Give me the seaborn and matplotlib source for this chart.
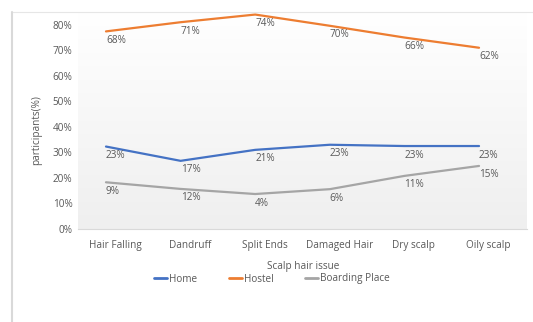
import numpy as np
import pandas as pd
import matplotlib
matplotlib.use("Agg")
import matplotlib.pyplot as plt
from matplotlib.lines import Line2D
from matplotlib.colors import LinearSegmentedColormap
import seaborn as sns

categories = ["Hair Falling", "Dandruff", "Split Ends", "Damaged Hair", "Dry scalp", "Oily scalp"]
series = ["Home", "Hostel", "Boarding Place"]
home_vals = [0.323, 0.267, 0.310, 0.330, 0.325, 0.325]
hostel_vals = [0.774, 0.810, 0.840, 0.796, 0.750, 0.710]
boarding_vals = [0.183, 0.157, 0.137, 0.156, 0.208, 0.247]
home_labels = ["23%", "17%", "21%", "23%", "23%", "23%"]
hostel_labels = ["68%", "71%", "74%", "70%", "66%", "62%"]
boarding_labels = ["9%", "12%", "4%", "6%", "11%", "15%"]
yticks = [0, 0.1, 0.2, 0.3, 0.4, 0.5, 0.6, 0.7, 0.8]
colors = ["#4472C4", "#ED7D31", "#A5A5A5"]

sns.set_theme(style="white")
plt.rcParams["font.family"] = ["Open Sans", "DejaVu Sans"]
TXT = "#595959"
FS = 7.2

rows = []
for name, vals in zip(series, [home_vals, hostel_vals, boarding_vals]):
    for i, v in enumerate(vals):
        rows.append({"x": i, "cat": categories[i], "series": name, "value": v})
df = pd.DataFrame(rows)

fig = plt.figure(figsize=(5.33, 3.22), dpi=100)
fig.patch.set_facecolor("white")
ax = fig.add_axes([78/533, 1-229/322, (527-78)/533, (229-12)/322])

# gradient background
grad = np.linspace(0.0, 1.0, 256).reshape(-1, 1)
cmap = LinearSegmentedColormap.from_list("bg", ["#efefef", "#ffffff"])
ax.imshow(grad, extent=[0, 1, 0, 1], transform=ax.transAxes, cmap=cmap,
          aspect="auto", zorder=0, origin="lower")

sns.lineplot(data=df, x="x", y="value", hue="series", hue_order=series,
             palette=colors, linewidth=1.6, ax=ax, legend=False, zorder=3)

for vals, labs in zip([home_vals, hostel_vals, boarding_vals],
                      [home_labels, hostel_labels, boarding_labels]):
    for i, (v, t) in enumerate(zip(vals, labs)):
        ax.annotate(t, (i, v), xytext=(0, -6.5), textcoords="offset points",
                    ha="left", va="center", fontsize=FS, color=TXT, zorder=4)

ax.set_xlim(-0.375, 5.643)
ax.set_ylim(0, 0.85)
ax.set_yticks(yticks)
ax.set_yticklabels([f"{int(round(t*100))}%" for t in yticks], fontsize=FS, color=TXT)
ax.set_xticks([i + 0.125 for i in range(len(categories))])
ax.set_xticklabels(categories, fontsize=FS, color=TXT)
ax.tick_params(axis="x", length=0, pad=8)
ax.tick_params(axis="y", length=0, pad=4)
for s in ["top", "right", "left"]:
    ax.spines[s].set_visible(False)
ax.spines["bottom"].set_color("#d9d9d9")
ax.spines["bottom"].set_linewidth(0.8)
ax.set_xlabel("")
ax.set_ylabel("")

fig.text(303/533, 1-267/322, "Scalp hair issue", ha="center", va="center", fontsize=FS, color=TXT)
fig.text(37/533, 1-130/322, "participants(%)", ha="center", va="center", rotation=90,
         fontsize=FS, color=TXT)

handles = [Line2D([0], [0], color=c, lw=2) for c in colors]
fig.legend(handles, series, loc="center", bbox_to_anchor=(272/533, 1-279/322), ncol=3,
           frameon=False, fontsize=FS, handlelength=1.3, handletextpad=0.15,
           columnspacing=3.2, labelcolor=TXT)

# outer chart frame
fig.add_artist(Line2D([12/533, 1], [1-12/322, 1-12/322], transform=fig.transFigure,
                      color="#e6e6e6", lw=0.8))
fig.add_artist(Line2D([12/533, 12/533], [0, 1-12/322], transform=fig.transFigure,
                      color="#d9d9d9", lw=1.5))

fig.savefig("out.png", dpi=100)
